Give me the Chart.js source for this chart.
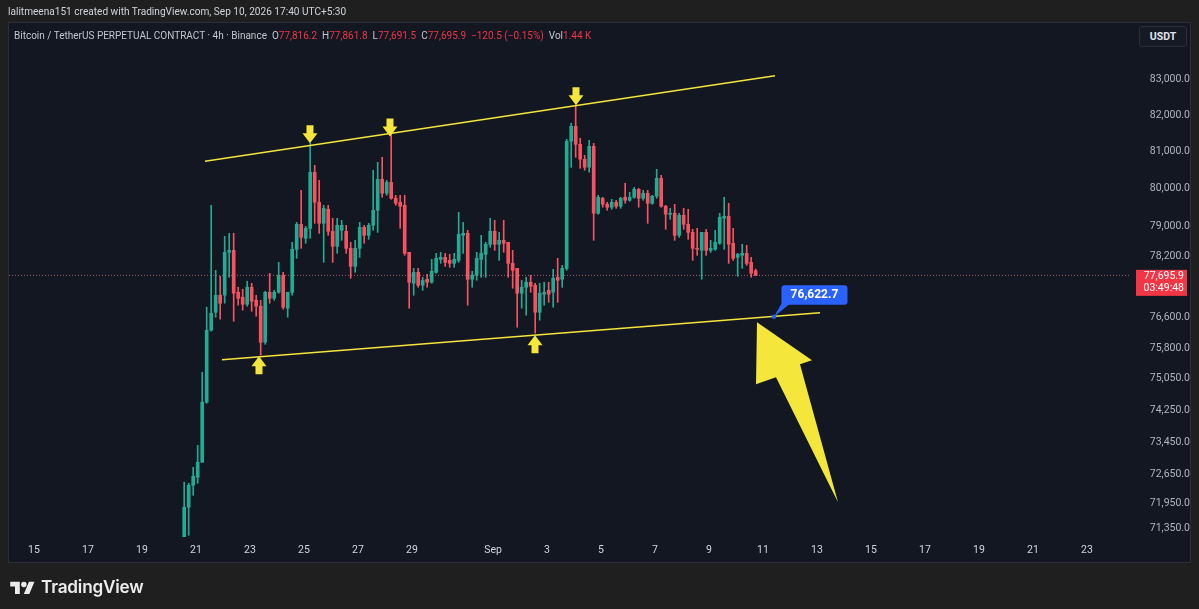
<!DOCTYPE html>
<html><head><meta charset="utf-8">
<script src="https://cdn.jsdelivr.net/npm/chart.js@4.4.1/dist/chart.umd.min.js"></script>
<style>
html,body{margin:0;padding:0;background:#1f1f1f;width:1199px;height:609px;overflow:hidden;font-family:Roboto,"Liberation Sans",sans-serif;}
#panel{position:absolute;left:8px;top:22px;width:1183px;height:541px;background:#131722;border:1px solid #2a2e39;box-sizing:border-box;}
#cv{position:absolute;left:0;top:0;}
#h1{position:absolute;left:8px;top:4px;font-size:10.1px;line-height:16px;color:#d1d4dc;white-space:nowrap;}
#h2{position:absolute;left:14px;top:28px;font-size:10px;line-height:16px;color:#c3c6ce;white-space:nowrap;}
#h2 .r{color:#f23645;}
#usdt{position:absolute;left:1139px;top:26px;width:48px;height:21px;box-sizing:border-box;border:1px solid #2a2e39;border-radius:3px;background:#161a25;color:#e0e3eb;font-size:10.5px;font-weight:bold;line-height:19px;text-align:center;}
#logo{position:absolute;left:10px;top:575px;height:22px;display:flex;align-items:center;color:#ececec;font-family:Inter,Roboto,sans-serif;font-weight:600;font-size:17.2px;letter-spacing:-0.2px;}
#logo svg{margin-right:6px;}
</style></head>
<body>
<div id="panel"></div>
<canvas id="cv" width="1199" height="609"></canvas>
<div id="h1">lalitmeena151 created with TradingView.com, Sep 10, 2026 17:40 UTC+5:30</div>
<div id="h2">Bitcoin / TetherUS PERPETUAL CONTRACT · 4h · Binance&nbsp; O<span class="r">77,816.2</span>&nbsp; H<span class="r">77,861.8</span>&nbsp; L<span class="r">77,691.5</span>&nbsp; C<span class="r">77,695.9</span>&nbsp; <span class="r">−120.5 (−0.15%)</span>&nbsp; Vol<span class="r">1.44 K</span></div>
<div id="usdt">USDT</div>
<div id="logo"><svg width="25" height="15" viewBox="0 0 36 22"><path d="M14 22H7V11H0V4h14v18z" fill="#ececec"/><circle cx="20" cy="8" r="4" fill="#ececec"/><path d="M28 22h-8l7.5-18h8L28 22z" fill="#ececec"/></svg>TradingView</div>
<script>
// ---- data (prices in USDT, 4h candles) ----
const firstCandle = '2026-08-20T13:30';   // chart time (UTC+5:30)
const candleHours = 4;
const open = [71014,71858,72392,72588,72954,74445,76273,76737,77177,77177,
78301,78354,77255,77125,76943,77385,77047,76892,75964,77255,
77099,77255,77698,76840,77255,78381,79043,78672,78936,80442,
79633,79070,79445,78857,78460,78884,78857,78407,77932,78407,
78963,78751,79016,79418,80252,79874,80171,79740,79633,79552,
78301,77490,77776,77438,77594,77516,77776,78116,78169,78090,
78010,78090,78751,78804,77594,77698,78116,78248,78513,78857,
78513,78619,78566,78010,77880,77229,77385,77516,77438,76737,
77203,77307,77255,77646,77594,77880,81286,81698,81203,80794,
80577,81148,79338,79740,79579,79499,79633,79525,79767,79686,
79767,79981,79740,79874,79606,79794,80279,79525,79311,79338,
78751,79284,79043,78830,78407,78354,78830,78354,78381,78540,
79204,79258,78540,78169,78222,78275,78037,77816.2];
const high = [72466,72441,72832,73374,75201,76866,79552,77828,77672,78725,
78804,78804,77385,77333,77542,77490,77177,77047,77281,77750,
77307,78037,77776,77255,78566,79096,79954,78989,81231,80631,
80225,79552,79552,79204,79204,79150,79016,78566,78619,79096,
79016,79070,80496,80713,80848,80225,81506,79820,79820,79820,
78301,77880,77880,77646,77724,78116,78275,78301,78275,78248,
78275,79365,79096,78884,77802,78301,78751,78566,79204,79150,
78830,79150,78566,78354,77880,77568,77646,77698,77490,77490,
77516,77516,77854,78143,77958,81341,81780,82277,81368,80902,
81313,81231,79820,79767,79633,79713,79686,79767,80144,79901,
80035,80008,79954,79954,79820,80523,80360,79552,79472,79579,
79338,79472,79445,78910,78936,78830,78910,78619,78884,79338,
79767,79606,78936,78275,78513,78487,78169,77861.8];
const low = [70870,71183,72148,72441,72954,74420,76250,76608,76557,76969,
77646,76505,76918,76789,76892,76763,76634,75634,75913,76969,
77047,77229,76814,76608,77177,78143,78407,78540,78672,79070,
78804,78037,78751,78037,78275,78619,78275,77620,77776,78169,
78540,78645,78884,78830,79767,79820,79713,79552,78936,78222,
76840,77177,77385,77307,77385,77490,77750,78010,77932,77906,
77906,78037,78275,76918,77385,77568,77646,77646,78434,78354,
78090,78301,77646,77359,76351,76840,76660,77255,76196,76531,
76918,76995,76866,76995,77385,77828,80577,80848,80550,80496,
80442,78619,79311,79499,79418,79445,79472,79472,79606,79660,
79740,79499,79686,79070,79579,79740,79499,78910,79177,78619,
78698,78910,78645,78090,78222,77594,78222,78301,78354,78513,
78381,78010,78090,77672,77880,77958,77646,77691.5];
const close = [71858,72392,72612,72954,74445,76273,76711,77177,76969,78301,
78354,77229,77099,76943,77385,77021,76892,75964,77255,77099,
77255,77698,76866,77255,78381,79043,78698,78936,80442,79633,
79070,79472,78857,78460,79016,79016,78407,77932,78407,78963,
78751,79016,79418,80252,79874,80171,79740,79606,79525,78275,
77516,77776,77438,77568,77516,77802,78143,78169,78037,78010,
78116,78778,78804,77594,77698,78143,78275,78513,78857,78513,
78619,78540,78010,77828,77229,77385,77516,77411,76737,77229,
77255,77203,77620,77568,77880,81286,81698,81203,80794,80577,
81148,79338,79767,79579,79499,79633,79525,79740,79686,79767,
79981,79740,79874,79606,79794,80279,79525,79311,79338,78751,
79284,79043,78830,78407,78381,78830,78354,78407,78566,79231,
79258,78513,78143,78248,78275,78010,77750,77695.9];

// axis: x in days of August 2026 (Sep 1 = 32)
const xTickDays   = [15,17,19,21,23,25,27,29,32,34,36,38,40,42,44,46,48,50,52,54];
const xTickLabels = ['15','17','19','21','23','25','27','29','Sep','3','5','7','9','11','13','15','17','19','21','23'];
const xRange = [14.074, 55.63];
const yTicks = [83000,82000,81000,80000,79000,78200,76600,75800,75050,74250,73450,72650,71950,71350];
const yRange = [71141, 84590];

// drawings (x in days, y in price)
const upperChannel = [{x:21.333,y:80740},{x:42.444,y:83097}];
const lowerChannel = [{x:21.963,y:75519},{x:44.111,y:76724}];
const downArrows = [{x:25.222,y:81478},{x:28.185,y:81666},{x:35.074,y:82527}];
const upArrows = [{x:23.333,y:75379},{x:33.556,y:75913}];
const bigArrow = [{x:41.778,y:76479},{x:43.815,y:75506},{x:43.370,y:75404},{x:44.778,y:71978},{x:42.481,y:75074},{x:41.741,y:74897}];
const priceMarker = {x:42.407, y:76622.7, text:'76,622.7'};
const lastPrice = 77695.9, countdown = '03:49:48';

const UP = '#22ab94', DOWN = '#f7525f', YEL = '#f5e63c';

// candle times in chart days
const t0 = new Date(firstCandle + ':00Z');
const base = Date.UTC(2026,7,0);
const times = open.map((_,i)=> (t0.getTime() + i*candleHours*3600e3 - base)/86400e3);
const colors = open.map((o,i)=> close[i] >= o ? UP : DOWN);

const fmt = v => Number(v).toLocaleString('en-US',{minimumFractionDigits:1, maximumFractionDigits:1});

const drawPlugin = {
  id:'drawings',
  afterDatasetsDraw(chart){
    const {ctx, chartArea:ca, scales:{x,y}} = chart;
    ctx.save();
    ctx.beginPath(); ctx.rect(ca.left, ca.top, ca.right-ca.left, ca.bottom-ca.top); ctx.clip();
    // big arrow
    ctx.fillStyle = YEL;
    ctx.beginPath();
    bigArrow.forEach((p,i)=>{ const px=x.getPixelForValue(p.x), py=y.getPixelForValue(p.y); i?ctx.lineTo(px,py):ctx.moveTo(px,py);});
    ctx.closePath(); ctx.fill();
    // small arrows
    const arrow = (px,py,dir)=>{
      ctx.beginPath();
      const s = dir;
      ctx.moveTo(px-3.5, py-9*s); ctx.lineTo(px+3.5, py-9*s); ctx.lineTo(px+3.5, py-1*s);
      ctx.lineTo(px+7.5, py-1*s); ctx.lineTo(px, py+9*s); ctx.lineTo(px-7.5, py-1*s); ctx.lineTo(px-3.5, py-1*s);
      ctx.closePath(); ctx.fill();
    };
    downArrows.forEach(p=>arrow(x.getPixelForValue(p.x), y.getPixelForValue(p.y), 1));
    upArrows.forEach(p=>arrow(x.getPixelForValue(p.x), y.getPixelForValue(p.y), -1));
    // blue price marker
    const mx = x.getPixelForValue(priceMarker.x), my = y.getPixelForValue(priceMarker.y);
    ctx.fillStyle = '#2962ff';
    ctx.beginPath(); ctx.moveTo(mx, my); ctx.lineTo(mx+8, my-14); ctx.lineTo(mx+17, my-14); ctx.closePath(); ctx.fill();
    ctx.beginPath(); ctx.roundRect(mx+7.5, my-31.5, 66, 19.5, 3); ctx.fill();
    ctx.beginPath(); ctx.arc(mx, my, 2.2, 0, Math.PI*2); ctx.fill();
    ctx.fillStyle = '#ffffff'; ctx.font = 'bold 12px Roboto'; ctx.textAlign='center'; ctx.textBaseline='middle';
    ctx.fillText(priceMarker.text, mx+40.5, my-21.5);
    ctx.restore();
    // last price label on axis
    const ly = y.getPixelForValue(lastPrice);
    ctx.save();
    ctx.fillStyle = '#f23645';
    ctx.fillRect(ca.right+5, ly-5.5, 51, 26);
    ctx.fillStyle = '#ffffff'; ctx.font = '10.5px Roboto'; ctx.textAlign='right'; ctx.textBaseline='middle';
    ctx.fillText(fmt(lastPrice), ca.right+53, ly+1.5);
    ctx.fillText(countdown, ca.right+53, ly+13.5);
    ctx.restore();
  }
};

new Chart(document.getElementById('cv'), {
  data:{
    datasets:[
      {type:'bar', data: times.map((t,i)=>({x:t, y:[low[i], high[i]]})), backgroundColor: colors, barThickness:1, grouped:false, order:5},
      {type:'bar', data: times.map((t,i)=>({x:t, y:[open[i], close[i]]})), backgroundColor: colors, barThickness:3, grouped:false, minBarLength:1, order:4},
      {type:'line', data:[{x:xRange[0],y:lastPrice},{x:xRange[1],y:lastPrice}], borderColor:'rgba(210,120,130,0.75)', borderWidth:1, borderDash:[1,2], pointRadius:0, order:3},
      {type:'line', data: upperChannel, borderColor: YEL, borderWidth:1.5, pointRadius:0, order:2},
      {type:'line', data: lowerChannel, borderColor: YEL, borderWidth:1.5, pointRadius:0, order:2}
    ]
  },
  options:{
    responsive:false, animation:false, devicePixelRatio:1,
    layout:{padding:{left:9, top:23, right:9, bottom:46}},
    plugins:{legend:{display:false}, tooltip:{enabled:false}},
    scales:{
      x:{type:'linear', min:xRange[0], max:xRange[1], offset:false, bounds:'data',
         grid:{display:false, drawTicks:false}, border:{display:false},
         afterBuildTicks: s=>{ s.ticks = xTickDays.map(v=>({value:v})); },
         afterFit: s=>{ s.height = 26; },
         ticks:{autoSkip:false, maxRotation:0, padding:7, color:'#d1d4dc', font:{family:'Roboto', size:10.5},
                callback:(v,i)=> xTickLabels[i]}},
      y:{type:'logarithmic', position:'right', min:yRange[0], max:yRange[1], bounds:'data',
         grid:{display:false, drawTicks:false}, border:{display:false},
         afterBuildTicks: s=>{ s.ticks = yTicks.map(v=>({value:v})); },
         afterFit: s=>{ s.width = 59; },
         ticks:{autoSkip:false, padding:12, crossAlign:'far', color:'#b2b5be', font:{family:'Roboto', size:10.5},
                callback: v=> fmt(v)}}
    }
  },
  plugins:[drawPlugin]
});
</script>
</body></html>
